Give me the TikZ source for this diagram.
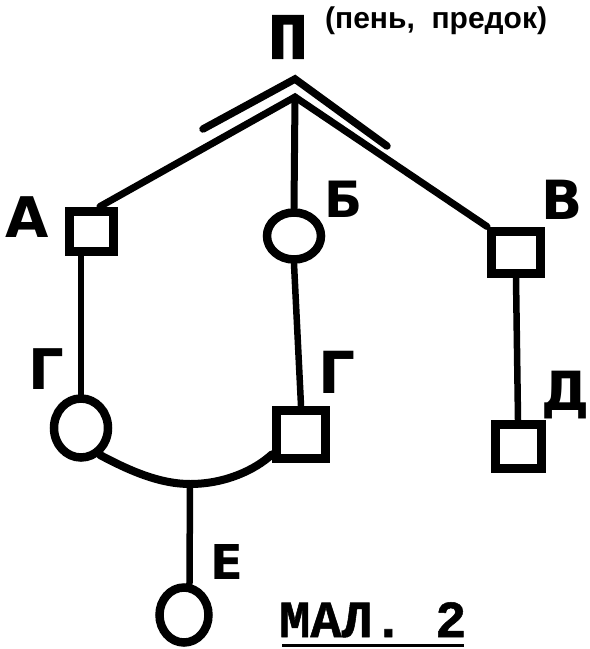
\documentclass[tikz,border=0pt]{standalone}
\usepackage{fontspec}
\usetikzlibrary{shapes.geometric,calc}
\newfontfamily\lblfont{DejaVu Sans Bold}
\newfontfamily\typefont{Liberation Mono Bold}[FakeBold=1]
\newfontfamily\rootfont{Liberation Mono Bold}[FakeBold=3]
\newfontfamily\notefont{Liberation Sans Bold}
\begin{document}
\begin{tikzpicture}[x=1pt,y=-1pt,
  sq/.style={draw, rectangle, line width=9pt, inner sep=0pt},
  circ/.style={draw, ellipse, line width=8.5pt, inner sep=0pt},
  link/.style={line width=7pt, line cap=round, line join=miter},
  roof/.style={line width=7.5pt, line cap=round, line join=miter},
  lbl/.style={inner sep=0pt, font=\lblfont\fontsize{#1}{#1}\selectfont},
  lbl/.default=52]
\useasboundingbox (0,0) rectangle (590,649);

% heading: the root and its gloss
\node[inner sep=0pt, font=\rootfont\fontsize{64}{64}\selectfont] (P) at (288,37) {П};
\node[anchor=west, inner sep=0pt, font=\notefont\fontsize{30}{30}\selectfont] (note) at (325,21) {(пень,\ \ предок)};

% family members
\node[sq, minimum width=44pt, minimum height=40pt] (A) at (91,231) {};
\node[circ, minimum width=54pt, minimum height=47pt] (B) at (294,236) {};
\node[sq, minimum width=49pt, minimum height=42pt] (V) at (516,252) {};
\node[circ, minimum width=54pt, minimum height=59pt] (G) at (81,428) {};
\node[sq, minimum width=49pt, minimum height=48pt] (G2) at (301,434) {};
\node[sq, minimum width=46pt, minimum height=44pt] (D) at (518,446) {};
\node[circ, minimum width=49pt, minimum height=55pt] (E) at (184,615) {};

% letters beside the symbols
\node[lbl=56] (lA) at (27,217) {А};
\node[lbl=50] (lB) at (344,199) {Б};
\node[lbl=54] (lV) at (562,200) {В};
\node[lbl=56] (lG) at (46,369) {Г};
\node[lbl=58] (lG2) at (337,372) {Г};
\node[lbl=54] (lD) at (566,395) {Д};
\node[lbl=48] (lE) at (227,562) {Е};

% branching from the root
\coordinate (apex) at (295,97);
\coordinate (rl) at (203,129);
\coordinate (rt) at (295,79);
\coordinate (rr) at (387,146);
\coordinate (J) at (190,484);

\draw[roof] (rl) -- (rt) -- (rr);
\draw[link] (A.70) -- (apex) -- (V.north west);
\draw[link] (apex) -- (B.north);

% descent lines
\draw[link, line width=5.5pt] (G.north) -- (G.north |- A.south);
\draw[link, line width=6.5pt] (B.south) -- (G2.north);
\draw[link, line width=6.5pt] (V.south) -- (D.north);

% marriage arc and child
\draw[link, line width=8pt] (G.-55) .. controls (130,471) and (160,484) .. (J)
  .. controls (225,484) and (255,470) .. (G2.215);
\draw[link, line width=6.5pt] (J) -- (E.80);

% caption
\node[anchor=base west, inner sep=0pt, font=\typefont\fontsize{52}{52}\selectfont] (cap) at (279,637) {МАЛ. 2};
\draw[line width=3pt] ($(cap.base west)+(3,8)$) -- ($(cap.base east)+(-3,8)$);
\end{tikzpicture}
\end{document}
